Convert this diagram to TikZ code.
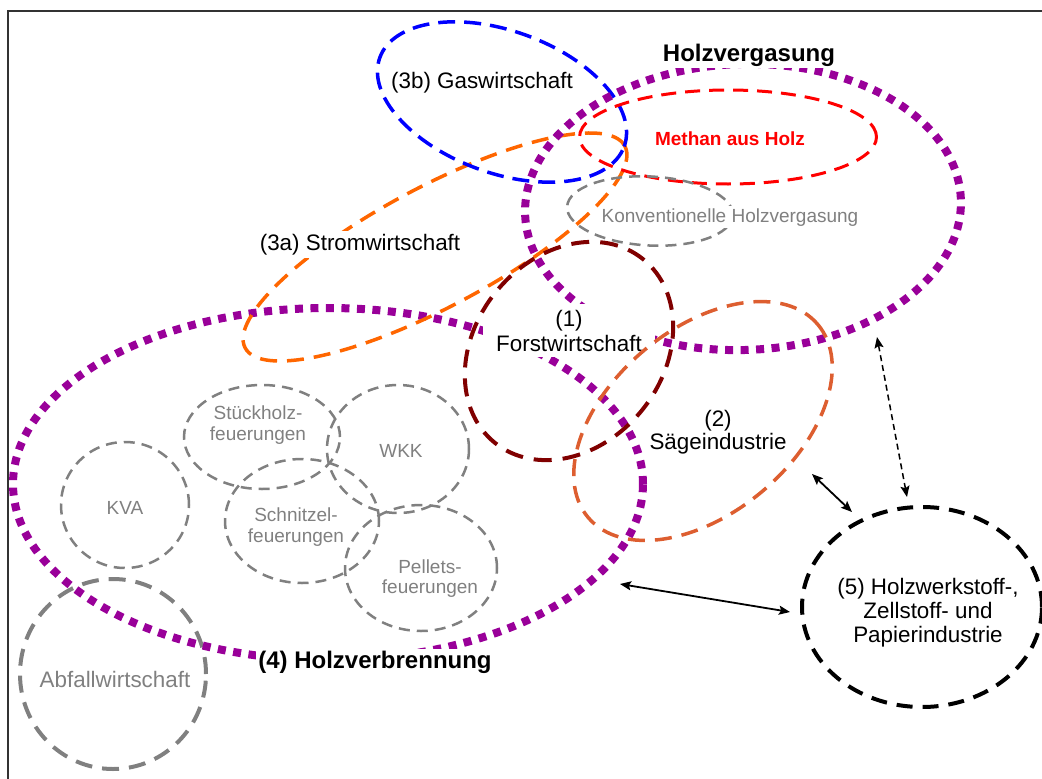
\documentclass[tikz,border=0pt]{standalone}
\usepackage{fontspec}
\setmainfont{Liberation Sans}[Ligatures={NoCommon}]
\usetikzlibrary{shapes.geometric,arrows.meta}
\definecolor{purp}{RGB}{153,0,153}
\definecolor{orng}{RGB}{255,102,0}
\definecolor{sagec}{RGB}{221,94,48}
\definecolor{maroonc}{RGB}{128,0,0}
\definecolor{grayc}{RGB}{128,128,128}
\definecolor{framec}{RGB}{51,51,51}
\begin{document}
\begin{tikzpicture}[x=1pt,y=-1pt,
  oval/.style={ellipse, inner sep=0pt, outer sep=0pt},
  dotline/.style={draw=purp, line width=8pt, dash pattern=on 8pt off 7.5pt},
  grayoval/.style={oval, draw=grayc, line width=2.5pt, dash pattern=on 11pt off 7pt},
  lbl/.style={font=\fontsize{22.4}{24.5}\selectfont, fill=white, inner sep=3pt, align=center, anchor=base},
  glbl/.style={font=\fontsize{19}{21}\selectfont, text=grayc, inner sep=1pt, align=center, anchor=base},
  blbl/.style={font=\fontsize{24}{26}\selectfont\bfseries, fill=white, inner sep=2pt, anchor=base},
  link/.style={line width=1.8pt, {Stealth[length=11pt,width=9pt,inset=2pt]}-{Stealth[length=11pt,width=9pt,inset=2pt]}}
]
\useasboundingbox (0,0) rectangle (1042,779);

% frame
\draw[framec, line width=2pt] (8,790) -- (8,11) -- (1050,11);

% combustion technologies
\node[grayoval, minimum width=128pt, minimum height=126pt] (kva) at (125,505) {};
\node[grayoval, minimum width=156pt, minimum height=104pt] (stueck) at (262,437) {};
\node[grayoval, minimum width=142pt, minimum height=128pt] (wkk) at (398,449) {};
\node[grayoval, minimum width=154pt, minimum height=124pt] (schn) at (302,521) {};
\node[grayoval, minimum width=152pt, minimum height=126pt] (pell) at (421,568) {};
\node[oval, draw=grayc, line width=4pt, dash pattern=on 17pt off 10pt,
      minimum width=186pt, minimum height=190pt] (abfall) at (113,674) {};

% sectors
\node[oval, dotline, minimum width=630pt, minimum height=352pt] (verb) at (328,484) {};
\node[oval, draw=orng, line width=3.5pt, dash pattern=on 17pt off 10pt,
      minimum width=430pt, minimum height=120pt, rotate=28] (strom) at (435,247) {};
\node[oval, draw=blue, line width=3.5pt, dash pattern=on 17pt off 9pt,
      minimum width=260pt, minimum height=142pt, rotate=-20] (gas) at (502,102) {};
\node[oval, draw=red, line width=3pt, dash pattern=on 15pt off 9pt,
      minimum width=297pt, minimum height=94pt] (methan) at (728,137) {};
\node[grayoval, minimum width=166pt, minimum height=69pt, rotate=-3] (konv) at (650,211) {};
\node[oval, dotline, minimum width=436pt, minimum height=286pt, rotate=2] (verg) at (743,207) {};

% labels (multi-line labels are placed by the baseline of their last line)
\node[lbl] (gasT) at (482,88) {(3b) Gaswirtschaft};
\node[blbl] (vergT) at (749,61) {Holzvergasung};
\node[blbl, font=\fontsize{19}{21}\selectfont\bfseries, text=red, fill=none] (methT) at (730,145) {Methan aus Holz};
\node[glbl, fill=white, inner sep=2pt] (konvT) at (730,222) {Konventionelle Holzvergasung};
\node[lbl] (stromT) at (360,250) {(3a) Stromwirtschaft};
\node[lbl, inner xsep=13pt, inner ysep=6pt] (forstT) at (569,351) {(1)\\Forstwirtschaft};
\node[lbl, font=\fontsize{22.4}{23}\selectfont] (sageT) at (718,449) {(2)\\Sägeindustrie};
\node[blbl] (verbT) at (375,668) {(4) Holzverbrennung};
\node[glbl] (stueckT) at (258,440) {Stückholz-\\feuerungen};
\node[glbl] (wkkT) at (401,457) {WKK};
\node[glbl] (kvaT) at (125,514) {KVA};
\node[glbl] (schnT) at (296,542) {Schnitzel-\\feuerungen};
\node[glbl, font=\fontsize{19}{20}\selectfont] (pellT) at (430,593) {Pellets-\\feuerungen};
\node[glbl, font=\fontsize{22.4}{24}\selectfont] (abfT) at (115,687) {Abfallwirtschaft};

% forestry, sawmills and wood processing
\node[oval, draw=maroonc, line width=4pt, dash pattern=on 18pt off 11pt,
      minimum width=236pt, minimum height=188pt, rotate=51] (forst) at (569,351) {};
\node[oval, draw=sagec, line width=3.5pt, dash pattern=on 17pt off 10pt,
      minimum width=300pt, minimum height=184pt, rotate=40] (sage) at (703,421) {};
\node[oval, draw=black, line width=4pt, dash pattern=on 16pt off 10pt,
      minimum width=240pt, minimum height=200pt] (papier) at (922,607) {};
\node[lbl, fill=none, font=\fontsize{22.4}{24}\selectfont] (papierT) at (928,642)
      {(5) Holzwerkstoff-,\\Zellstoff- und\\Papierindustrie};

% exchanges between the sectors
\coordinate (vergEnd) at (877,337);
\coordinate (papTop) at (907,497);
\coordinate (sageEnd) at (812,474);
\coordinate (papUL) at (852,512);
\coordinate (verbEnd) at (620,584);
\coordinate (papL) at (790,612);
\draw[line width=1.5pt, dash pattern=on 6pt off 4pt, {Stealth[length=11pt,width=9pt,inset=2pt]}-{Stealth[length=11pt,width=9pt,inset=2pt]}] (vergEnd) -- (papTop);
\draw[link] (sageEnd) -- (papUL);
\draw[link] (verbEnd) -- (papL);
\end{tikzpicture}
\end{document}
